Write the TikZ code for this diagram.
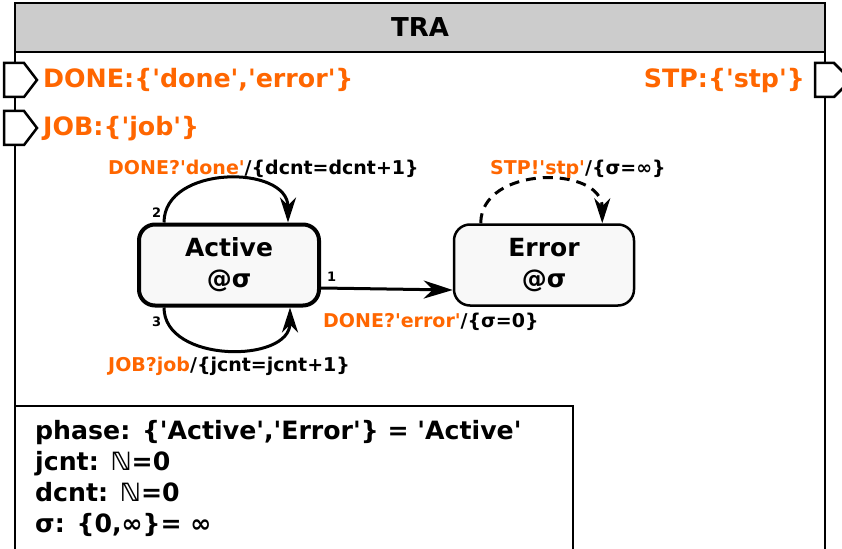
\documentclass[tikz,border=0pt]{standalone}
\usepackage{fontspec}
\newfontfamily\dvs{DejaVu Sans}
\usepackage{xcolor}
\usetikzlibrary{arrows.meta}
\usetikzlibrary{math}
\definecolor{msgorange}{HTML}{FF6600}
\definecolor{headgray}{HTML}{CCCCCC}
\definecolor{phasefill}{HTML}{F8F8F8}
\tikzset{
  headtxt/.style={font=\dvs\bfseries\fontsize{26}{30}\selectfont, inner sep=0pt},
  porttxt/.style={font=\dvs\bfseries\fontsize{25.3}{30}\selectfont, text=msgorange, inner sep=0pt},
  port/.style={draw, line width=2.5pt, fill=white},
  phasebox/.style={draw, fill=phasefill, rounded corners=16pt, minimum width=180pt, minimum height=81pt,
    align=center, font=\dvs\bfseries\fontsize{25}{31}\selectfont},
  trans/.style={line width=3pt, -{Stealth[length=25pt, width=16pt, inset=8pt]}},
  translbl/.style={font=\dvs\bfseries\fontsize{19}{22}\selectfont, inner sep=0pt, anchor=base west},
  prio/.style={font=\dvs\bfseries\fontsize{13}{15}\selectfont, inner sep=0pt, anchor=base west},
  vartxt/.style={font=\dvs\bfseries\fontsize{25.2}{31}\selectfont, inner sep=0pt, anchor=base west},
}
\begin{document}
\begin{tikzpicture}[x=1pt, y=-1pt]
\tikzmath{
\ph=17;
}
\useasboundingbox (0,0) rectangle (842,548);

% frame of the atomic model
\fill[headgray] (15,3) rectangle (825,52);
\draw[line width=2.5pt] (15,560) -- (15,3) -- (825,3) -- (825,560);
\draw[line width=2.5pt] (15,52) -- (825,52);
\node[headtxt, anchor=base] (title) at (420,37) {TRA};

% ports
\foreach \py in {80,128}
  \draw[port] (4,\py-\ph) -- (24,\py-\ph) -- (37,\py) -- (24,\py+\ph) -- (4,\py+\ph) -- cycle;
\draw[port] (815,80-\ph) -- (834,80-\ph) -- (851,80) -- (834,80+\ph) -- (815,80+\ph) -- cycle;
\node[porttxt, anchor=base west] (pdone) at (43,88) {DONE:\{'done','error'\}};
\node[porttxt, anchor=base west] (pjob) at (43,136) {JOB:\{'job'\}};
\node[porttxt, anchor=base east] (pstp) at (805,88) {STP:\{'stp'\}};

% phases
\node[phasebox, line width=4pt] (active) at (229,265) {Active\\@σ};
\node[phasebox, line width=2.5pt] (error) at (544,265) {Error\\@σ};

% transitions
\draw[trans, -{Stealth[length=29pt, width=18pt, inset=9pt]}] ([yshift=-23pt]active.east) -- ([yshift=-25pt]error.west);
\draw[trans] ([xshift=27pt]active.north west) .. controls +(0,-58) and +(0,-58) .. ([xshift=-33pt]active.north east);
\draw[trans] ([xshift=27pt]active.south west) .. controls +(0,56) and +(0,56) .. ([xshift=-31pt]active.south east);
\draw[trans, dash pattern=on 10pt off 7pt] ([xshift=28pt]error.north west) .. controls +(0,-58) and +(0,-58) .. ([xshift=-33pt]error.north east);

\node[prio] (p1) at (327,281) {1};
\node[prio] (p2) at (152,217) {2};
\node[prio] (p3) at (152,326) {3};
\node[translbl] (tdone) at (108,175) {\textcolor{msgorange}{DONE?'done'}/\{dcnt=dcnt+1\}};
\node[translbl] (tjob) at (108,371) {\textcolor{msgorange}{JOB?job}/\{jcnt=jcnt+1\}};
\node[translbl] (terr) at (323,327) {\textcolor{msgorange}{DONE?'error'}/\{σ=0\}};
\node[translbl] (tstp) at (490,175) {\textcolor{msgorange}{STP!'stp'}/\{σ=∞\}};

% state variables
\draw[line width=2.5pt] (15,406) -- (573,406) -- (573,560);
\node[vartxt] (vphase) at (35,439) {phase: \{'Active','Error'\} = 'Active'};
\node[vartxt] (vjcnt) at (35,470) {jcnt: ℕ=0};
\node[vartxt] (vdcnt) at (35,501) {dcnt: ℕ=0};
\node[vartxt] (vsigma) at (35,532) {σ: \{0,∞\}= ∞};
\end{tikzpicture}
\end{document}
